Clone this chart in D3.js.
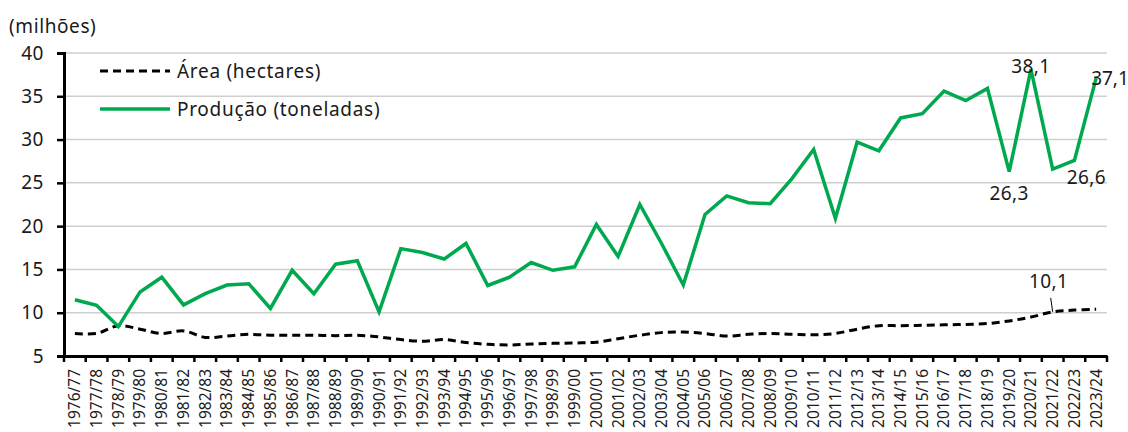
<!DOCTYPE html>
<html>
<head>
<meta charset="utf-8">
<script src="https://cdn.jsdelivr.net/npm/d3@7"></script>
<style>
  body { margin: 0; background: #fff; }
  text { font-family: "Noto Sans", sans-serif; fill: #1a1a1a; }
</style>
</head>
<body>
<script>
var svgWidth = 1128;
var svgHeight = 432;

var margin = { top: 53, right: 21, bottom: 76, left: 64 };

// safras
var seasons = [
  "1976/77", "1977/78", "1978/79", "1979/80", "1980/81", "1981/82", "1982/83", "1983/84",
  "1984/85", "1985/86", "1986/87", "1987/88", "1988/89", "1989/90", "1990/91", "1991/92",
  "1992/93", "1993/94", "1994/95", "1995/96", "1996/97", "1997/98", "1998/99", "1999/00",
  "2000/01", "2001/02", "2002/03", "2003/04", "2004/05", "2005/06", "2006/07", "2007/08",
  "2008/09", "2009/10", "2010/11", "2011/12", "2012/13", "2013/14", "2014/15", "2015/16",
  "2016/17", "2017/18", "2018/19", "2019/20", "2020/21", "2021/22", "2022/23", "2023/24"
];

// area (milhoes de hectares)
var area = [
  7.6, 7.6, 8.5, 8.1, 7.6, 7.9, 7.15, 7.3,
  7.5, 7.4, 7.4, 7.4, 7.35, 7.4, 7.2, 6.9,
  6.7, 6.9, 6.55, 6.35, 6.27, 6.38, 6.46, 6.5,
  6.6, 7.0, 7.4, 7.7, 7.77, 7.6, 7.3, 7.5,
  7.6, 7.5, 7.45, 7.6, 8.1, 8.5, 8.5, 8.55,
  8.6, 8.65, 8.75, 9.05, 9.5, 10.1, 10.3, 10.4
];

// producao (milhoes de toneladas)
var production = [
  11.5, 10.85, 8.4, 12.4, 14.1, 10.9, 12.2, 13.2,
  13.35, 10.5, 14.9, 12.2, 15.6, 16.0, 10.1, 17.4,
  16.95, 16.2, 18.0, 13.15, 14.1, 15.8, 14.9, 15.3,
  20.2, 16.5, 22.5, 18.0, 13.2, 21.35, 23.5, 22.7,
  22.6, 25.5, 28.85, 20.9, 29.7, 28.7, 32.5, 33.0,
  35.6, 34.5, 35.9, 26.3, 38.1, 26.6, 27.6, 37.1
];

var yTicks = [5, 10, 15, 20, 25, 30, 35, 40];

var chartWidth = svgWidth - margin.left - margin.right;
var chartHeight = svgHeight - margin.top - margin.bottom;

var svg = d3.select("body")
  .append("svg")
  .attr("width", svgWidth)
  .attr("height", svgHeight);

var chartGroup = svg.append("g")
  .attr("transform", `translate(${margin.left}, ${margin.top})`);

var xScale = d3.scaleBand()
  .domain(seasons)
  .range([0, chartWidth]);

var yScale = d3.scaleLinear()
  .domain([5, 40])
  .range([chartHeight, 0]);

var xPos = d => xScale(d) + xScale.bandwidth() / 2;

// gridlines
chartGroup.selectAll(".grid")
  .data(yTicks.slice(1))
  .enter()
  .append("line")
  .attr("x1", 0)
  .attr("x2", chartWidth)
  .attr("y1", d => yScale(d))
  .attr("y2", d => yScale(d))
  .attr("stroke", "#cfcfcf")
  .attr("stroke-width", 1.5);

// y axis
var yAxis = chartGroup.append("g")
  .call(d3.axisLeft(yScale).tickValues(yTicks).tickSize(7).tickPadding(13));
yAxis.select(".domain").attr("stroke", "#000").attr("stroke-width", 3);
yAxis.selectAll(".tick line").attr("stroke", "#000").attr("stroke-width", 2.5);
yAxis.selectAll("text")
  .style("font-size", "19px")
  .style("letter-spacing", "0.5px")
  .attr("fill", "#1a1a1a");

// x axis
var xAxis = chartGroup.append("g")
  .attr("transform", `translate(0, ${chartHeight})`)
  .call(d3.axisBottom(xScale).tickSize(0));
xAxis.select(".domain").attr("stroke", "#000").attr("stroke-width", 3);
xAxis.selectAll(".tick text")
  .style("font-size", "15.5px")
  .attr("fill", "#1a1a1a")
  .attr("transform", "rotate(-90)")
  .attr("text-anchor", "end")
  .attr("x", -13)
  .attr("y", 0)
  .attr("dy", "0.35em");

// tick marks at category boundaries
chartGroup.selectAll(".xtick")
  .data(seasons.concat(["end"]))
  .enter()
  .append("line")
  .attr("x1", (d, i) => i * xScale.step())
  .attr("x2", (d, i) => i * xScale.step())
  .attr("y1", chartHeight)
  .attr("y2", chartHeight + 6)
  .attr("stroke", "#000")
  .attr("stroke-width", 2.5);

// area line (smoothed, dashed)
var areaLine = d3.line()
  .x((d, i) => xPos(seasons[i]))
  .y(d => yScale(d))
  .curve(d3.curveCatmullRom.alpha(0.5));

chartGroup.append("path")
  .attr("d", areaLine(area))
  .attr("fill", "none")
  .attr("stroke", "#000")
  .attr("stroke-width", 3)
  .attr("stroke-dasharray", "8,5");

// production line
var prodLine = d3.line()
  .x((d, i) => xPos(seasons[i]))
  .y(d => yScale(d));

chartGroup.append("path")
  .attr("d", prodLine(production))
  .attr("fill", "none")
  .attr("stroke", "#00a84f")
  .attr("stroke-width", 3.5)
  .attr("stroke-linejoin", "miter");

// data labels
var fmt = v => String(v).replace(".", ",");

var prodLabels = [
  { i: 43, dx: 0, dy: 22, anchor: "middle" },
  { i: 44, dx: 0, dy: -3, anchor: "middle" },
  { i: 45, dx: 14, dy: 8, anchor: "start" },
  { i: 47, dx: -5, dy: 0, anchor: "start" }
];

chartGroup.selectAll(".plabel")
  .data(prodLabels)
  .enter()
  .append("text")
  .attr("x", d => xPos(seasons[d.i]) + d.dx)
  .attr("y", d => yScale(production[d.i]) + d.dy)
  .attr("dy", "0.35em")
  .attr("text-anchor", d => d.anchor)
  .style("font-size", "19px")
  .style("letter-spacing", d => d.i === 47 ? "0px" : "0.4px")
  .text(d => fmt(production[d.i]));

// area label with leader
var aIdx = 45;
chartGroup.append("line")
  .attr("x1", xPos(seasons[aIdx]) - 2)
  .attr("x2", xPos(seasons[aIdx]))
  .attr("y1", yScale(area[aIdx]) - 14)
  .attr("y2", yScale(area[aIdx]))
  .attr("stroke", "#000")
  .attr("stroke-width", 1);

chartGroup.append("text")
  .attr("x", xPos(seasons[aIdx]) - 4)
  .attr("y", yScale(area[aIdx]) - 24)
  .attr("text-anchor", "middle")
  .style("font-size", "19px")
  .style("letter-spacing", "0.4px")
  .text(fmt(area[aIdx]));

// units
svg.append("text")
  .attr("x", 9)
  .attr("y", 33)
  .style("font-size", "19px")
  .style("letter-spacing", "0.6px")
  .text("(milhões)");

// legend
var legend = chartGroup.append("g").attr("transform", "translate(36, 18)");
var legendItems = [
  { name: "Área (hectares)", color: "#000", dash: "8,5", width: 3 },
  { name: "Produção (toneladas)", color: "#00a84f", dash: null, width: 3.5 }
];

legendItems.forEach(function(item, i) {
  var g = legend.append("g").attr("transform", `translate(0, ${i * 38})`);
  g.append("line")
    .attr("x1", 0).attr("x2", 70)
    .attr("y1", 0).attr("y2", 0)
    .attr("stroke", item.color)
    .attr("stroke-width", item.width)
    .attr("stroke-dasharray", item.dash);
  g.append("text")
    .attr("x", 77)
    .attr("y", 0)
    .attr("dy", "0.35em")
    .style("font-size", "19px")
    .style("letter-spacing", "0.7px")
    .text(item.name);
});
</script>
</body>
</html>
